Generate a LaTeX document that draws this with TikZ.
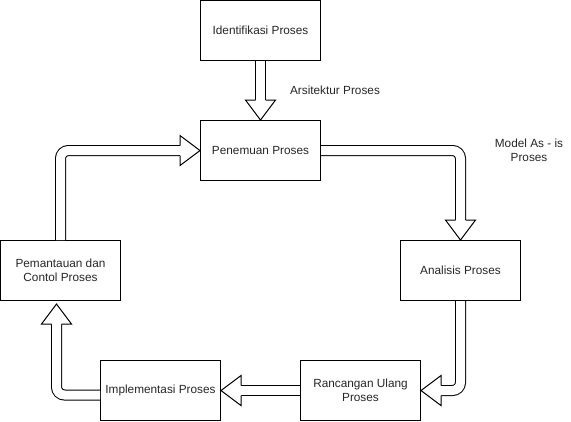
\documentclass[tikz,border=0pt]{standalone}
\usepackage{fontspec}
\setmainfont{Liberation Sans}
\usetikzlibrary{calc}
\newcommand\flexhead[2]{\draw[line width=1pt, fill=white, line join=miter, shift={(#1)}, rotate=#2] (-20,5) -- (-20,15) -- (0,0) -- (-20,-15) -- (-20,-5);}
\begin{document}
\begin{tikzpicture}[x=1pt,y=1pt,
  box/.style={draw, line width=1pt, minimum width=120pt, minimum height=60pt, inner sep=0pt, align=center, font=\fontsize{11.8}{14}\selectfont, text=black!85},
  shaft/.style={draw, line width=1pt, double=white, double distance=9pt, rounded corners=8pt},
  lbl/.style={font=\fontsize{11.8}{14}\selectfont, align=center, text=black!85}]
\useasboundingbox (0,0) rectangle (571,-421);
\node[box] (id) at (260.5,-30.5) {Identifikasi Proses};
\node[box] (pen) at (260.5,-150.5) {Penemuan Proses};
\node[box] (ana) at (460.5,-270.5) {Analisis Proses};
\node[box] (ran) at (360.5,-390.5) {Rancangan Ulang\\Proses};
\node[box] (imp) at (160.5,-390.5) {Implementasi Proses};
\node[box] (pem) at (60.5,-270.5) {Pemantauan dan\\Contol Proses};
\node[lbl] (l1) at (335,-90) {Arsitektur Proses};
\node[lbl] (l2) at (529,-150) {Model As - is\\Proses};
% arrow 1
\draw[shaft] (id.south) -- ($(pen.north)+(0,19.5)$);
\flexhead{pen.north}{-90}
% arrow 2
\draw[shaft] (pen.east) -| ($(ana.north)+(0,19.5)$);
\flexhead{ana.north}{-90}
% arrow 3
\draw[shaft] (ana.south) |- ($(ran.east)+(19.5,0)$);
\flexhead{ran.east}{180}
% arrow 4
\draw[shaft] (ran.west) -- ($(imp.east)+(19.5,0)$);
\flexhead{imp.east}{180}
% arrow 5
\coordinate (t5) at ($(pem.south)+(-4,-3)$);
\draw[shaft] ($(imp.west)+(0,-4.5)$) -| ($(t5)+(0,-19.5)$);
\flexhead{t5}{90}
% arrow 6
\draw[shaft] (pem.north) |- ($(pen.west)+(-19.5,0)$);
\flexhead{pen.west}{0}
\end{tikzpicture}
\end{document}
